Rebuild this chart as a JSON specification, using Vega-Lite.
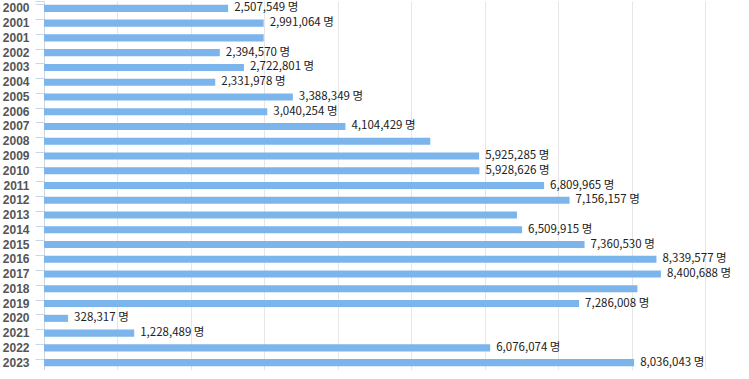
{
  "$schema": "https://vega.github.io/schema/vega-lite/v6.json",
  "autosize": {"type": "none"},
  "padding": {"left": 44, "top": 1, "right": 0, "bottom": 0},
  "width": 705,
  "height": 369,
  "background": "white",
  "data": {"values": [
    {"year": "2000", "value": 2507549, "label": "2,507,549 명"},
    {"year": "2001", "value": 2991064, "label": "2,991,064 명"},
    {"year": "2001 ", "value": 2991064, "label": ""},
    {"year": "2002", "value": 2394570, "label": "2,394,570 명"},
    {"year": "2003", "value": 2722801, "label": "2,722,801 명"},
    {"year": "2004", "value": 2331978, "label": "2,331,978 명"},
    {"year": "2005", "value": 3388349, "label": "3,388,349 명"},
    {"year": "2006", "value": 3040254, "label": "3,040,254 명"},
    {"year": "2007", "value": 4104429, "label": "4,104,429 명"},
    {"year": "2008", "value": 5260000, "label": ""},
    {"year": "2009", "value": 5925285, "label": "5,925,285 명"},
    {"year": "2010", "value": 5928626, "label": "5,928,626 명"},
    {"year": "2011", "value": 6809965, "label": "6,809,965 명"},
    {"year": "2012", "value": 7156157, "label": "7,156,157 명"},
    {"year": "2013", "value": 6440000, "label": ""},
    {"year": "2014", "value": 6509915, "label": "6,509,915 명"},
    {"year": "2015", "value": 7360530, "label": "7,360,530 명"},
    {"year": "2016", "value": 8339577, "label": "8,339,577 명"},
    {"year": "2017", "value": 8400688, "label": "8,400,688 명"},
    {"year": "2018", "value": 8080000, "label": ""},
    {"year": "2019", "value": 7286008, "label": "7,286,008 명"},
    {"year": "2020", "value": 328317, "label": "328,317 명"},
    {"year": "2021", "value": 1228489, "label": "1,228,489 명"},
    {"year": "2022", "value": 6076074, "label": "6,076,074 명"},
    {"year": "2023", "value": 8036043, "label": "8,036,043 명"}
  ]},
  "encoding": {
    "y": {
      "field": "year", "type": "ordinal", "sort": null,
      "scale": {"paddingInner": 0.52, "paddingOuter": 0.26},
      "axis": {
        "title": null,
        "domainColor": "#ccd6eb", "tickColor": "#ccd6eb", "tickSize": 9,
        "bandPosition": 0, "tickExtra": true,
        "labelFont": "Liberation Sans", "labelFontSize": 12, "labelFontWeight": "bold",
        "labelColor": "#555555", "labelPadding": 6, "labelAlign": "right"
      }
    },
    "x": {
      "field": "value", "type": "quantitative",
      "scale": {"domain": [0, 9600000], "nice": false, "zero": true},
      "axis": {
        "title": null, "labels": false, "ticks": false, "domain": false,
        "grid": true, "gridColor": "#e6e6e6",
        "values": [1000000, 2000000, 3000000, 4000000, 5000000, 6000000, 7000000, 8000000, 9000000]
      }
    }
  },
  "layer": [
    {"mark": {"type": "bar", "color": "#7cb5ec"}},
    {
      "mark": {"type": "text", "align": "left", "baseline": "middle", "dx": 6, "font": "Noto Sans CJK KR", "fontSize": 11.5, "color": "#222"},
      "encoding": {"text": {"field": "label"}}
    }
  ],
  "config": {"view": {"stroke": null}}
}
